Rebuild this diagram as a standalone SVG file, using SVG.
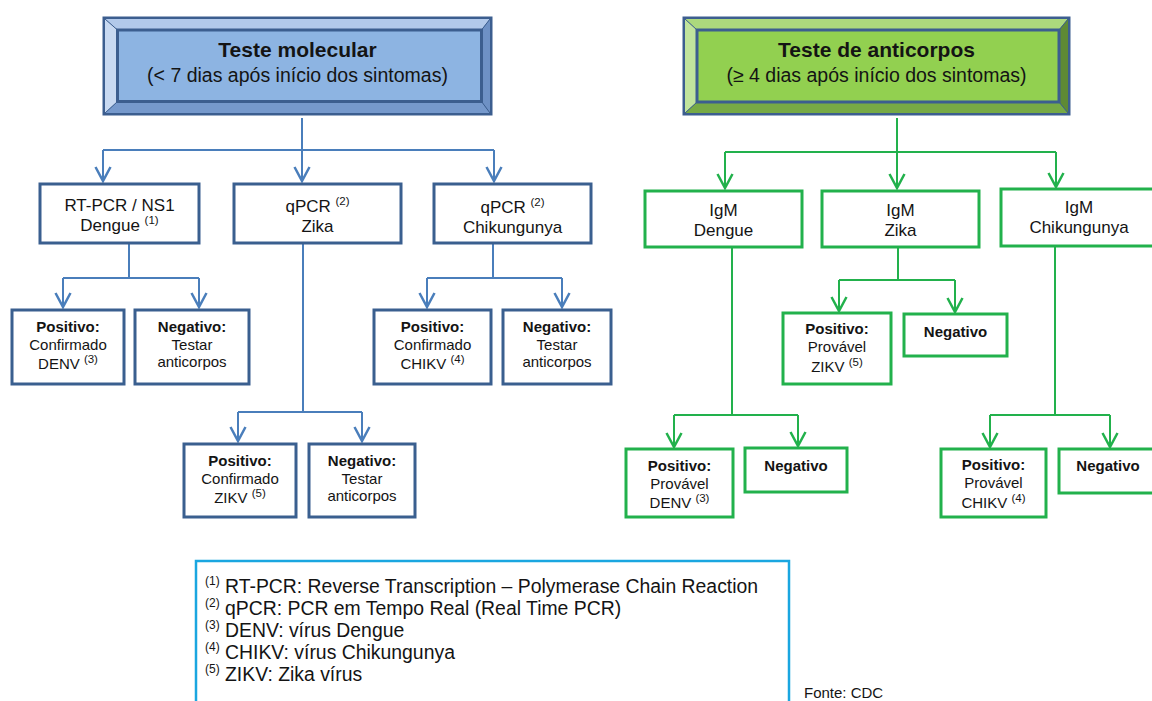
<svg xmlns="http://www.w3.org/2000/svg" width="1152" height="701" viewBox="0 0 1152 701">
<defs>
<marker id="ab" viewBox="-16 -10 18 20" refX="0" refY="0" markerWidth="18" markerHeight="20" markerUnits="userSpaceOnUse" orient="auto"><path d="M-14,-7.5 L0,0 L-14,7.5" fill="none" stroke="#4a7ebb" stroke-width="2.5"/></marker>
<marker id="ag" viewBox="-16 -10 18 20" refX="0" refY="0" markerWidth="18" markerHeight="20" markerUnits="userSpaceOnUse" orient="auto"><path d="M-14,-7.5 L0,0 L-14,7.5" fill="none" stroke="#22b14c" stroke-width="2.5"/></marker>
<style>
text{font-family:"Liberation Sans",Arial,sans-serif;fill:#141414}
.t{font-size:21px;font-weight:bold;text-anchor:middle}
.s{font-size:19.5px;text-anchor:middle}
.m{font-size:17px;text-anchor:middle}
.n{font-size:15px;text-anchor:middle}
.b{font-weight:bold}
.sup{font-size:11.5px}
.bb{fill:#fff;stroke:#3a5f8f;stroke-width:3}
.gb{fill:#fff;stroke:#22b14c;stroke-width:3}
.cb{fill:none;stroke:#4a7ebb;stroke-width:2}
.cg{fill:none;stroke:#22b14c;stroke-width:2}
.leg{font-size:19.4px}
.ls{font-size:12px}
</style>
</defs>

<g id="hdr-molecular">
<rect x="102.5" y="16.5" width="390" height="99" fill="#3c5e8f"/>
<polygon points="105,19 490,19 481.5,30 117.5,30" fill="#b2c9ea"/>
<polygon points="105,19 117.5,30 117.5,101.5 105,113" fill="#c8d9f1"/>
<polygon points="490,19 490,113 481.5,101.5 481.5,30" fill="#6e91c5"/>
<polygon points="105,113 117.5,101.5 481.5,101.5 490,113" fill="#7699cc"/>
<rect x="117.5" y="30" width="364" height="71.5" fill="#8db4e2" stroke="#3c5e8f" stroke-width="3"/>
<path d="M105,19 L117.5,30 M490,19 L481.5,30 M105,113 L117.5,101.5 M490,113 L481.5,101.5" stroke="#3c5e8f" stroke-width="1"/>
<text class="t" x="297.5" y="56.5">Teste molecular</text>
<text class="s" x="297.5" y="81.5">(&lt; 7 dias após início dos sintomas)</text>
</g>

<g id="hdr-anticorpos">
<rect x="682.5" y="16.5" width="388" height="99" fill="#3c5e8f"/>
<polygon points="685,19 1068,19 1059,30 697,30" fill="#acd97d"/>
<polygon points="685,19 697,30 697,102 685,113" fill="#c1e49d"/>
<polygon points="1068,19 1068,113 1059,102 1059,30" fill="#5e8a35"/>
<polygon points="685,113 697,102 1059,102 1068,113" fill="#77aa44"/>
<rect x="697" y="30" width="362" height="72" fill="#92d050" stroke="#3c5e8f" stroke-width="3"/>
<path d="M685,19 L697,30 M1068,19 L1059,30 M685,113 L697,102 M1068,113 L1059,102" stroke="#3c5e8f" stroke-width="1"/>
<text class="t" x="876.5" y="56.5">Teste de anticorpos</text>
<text class="s" x="876.5" y="81.5">(≥ 4 dias após início dos sintomas)</text>
</g>

<g id="connectors">
<path class="cb" d="M302,118 V150 M103,150 H494 M129,244 V278 M63,278 H199 M493,244 V278 M427,278 H562 M303,244 V412 M238,412 H362"/>
<path class="cb" marker-end="url(#ab)" d="M103,150 V181"/>
<path class="cb" marker-end="url(#ab)" d="M302,150 V181"/>
<path class="cb" marker-end="url(#ab)" d="M494,150 V181"/>
<path class="cb" marker-end="url(#ab)" d="M63,278 V307"/>
<path class="cb" marker-end="url(#ab)" d="M199,278 V307"/>
<path class="cb" marker-end="url(#ab)" d="M427,278 V307"/>
<path class="cb" marker-end="url(#ab)" d="M562,278 V307"/>
<path class="cb" marker-end="url(#ab)" d="M238,412 V441"/>
<path class="cb" marker-end="url(#ab)" d="M362,412 V441"/>
<path class="cg" d="M897,118 V152 M725,152 H1056 M898,248 V280 M839,280 H955 M732,247 V415 M674,415 H798 M1055,247 V415 M990,415 H1110"/>
<path class="cg" marker-end="url(#ag)" d="M725,152 V188"/>
<path class="cg" marker-end="url(#ag)" d="M897,152 V188"/>
<path class="cg" marker-end="url(#ag)" d="M1056,152 V187"/>
<path class="cg" marker-end="url(#ag)" d="M839,280 V311"/>
<path class="cg" marker-end="url(#ag)" d="M955,280 V312"/>
<path class="cg" marker-end="url(#ag)" d="M674,415 V447"/>
<path class="cg" marker-end="url(#ag)" d="M798,415 V446"/>
<path class="cg" marker-end="url(#ag)" d="M990,415 V447"/>
<path class="cg" marker-end="url(#ag)" d="M1110,415 V447"/>
</g>

<g id="rtpcr-dengue"><rect class="bb" x="40" y="184" width="159" height="59"/>
<text class="m" x="119.5" y="211">RT-PCR / NS1</text>
<text class="m" x="119.5" y="231">Dengue <tspan class="sup" dy="-7">(1)</tspan></text></g>
<g id="qpcr-zika"><rect class="bb" x="234" y="184" width="167" height="59"/>
<text class="m" x="317.5" y="212">qPCR <tspan class="sup" dy="-7">(2)</tspan></text>
<text class="m" x="317.5" y="232">Zika</text></g>
<g id="qpcr-chik"><rect class="bb" x="434" y="184" width="157" height="59"/>
<text class="m" x="512.5" y="213">qPCR <tspan class="sup" dy="-7">(2)</tspan></text>
<text class="m" x="512.5" y="233">Chikungunya</text></g>

<g id="pos-denv"><rect class="bb" x="12" y="310" width="112" height="74"/>
<text class="n b" x="68" y="332">Positivo:</text>
<text class="n" x="68" y="350">Confirmado</text>
<text class="n" x="68" y="369">DENV <tspan class="sup" dy="-6">(3)</tspan></text></g>
<g id="neg-denv"><rect class="bb" x="135" y="310" width="114" height="74"/>
<text class="n b" x="192" y="332">Negativo:</text>
<text class="n" x="192" y="350">Testar</text>
<text class="n" x="192" y="367">anticorpos</text></g>
<g id="pos-chikv"><rect class="bb" x="374" y="310" width="117" height="74"/>
<text class="n b" x="432.5" y="332">Positivo:</text>
<text class="n" x="432.5" y="350">Confirmado</text>
<text class="n" x="432.5" y="369">CHIKV <tspan class="sup" dy="-6">(4)</tspan></text></g>
<g id="neg-chikv"><rect class="bb" x="503" y="310" width="108" height="74"/>
<text class="n b" x="557" y="332">Negativo:</text>
<text class="n" x="557" y="350">Testar</text>
<text class="n" x="557" y="367">anticorpos</text></g>
<g id="pos-zikv"><rect class="bb" x="184" y="444" width="112" height="73"/>
<text class="n b" x="240" y="466">Positivo:</text>
<text class="n" x="240" y="484">Confirmado</text>
<text class="n" x="240" y="503">ZIKV <tspan class="sup" dy="-6">(5)</tspan></text></g>
<g id="neg-zikv"><rect class="bb" x="309" y="444" width="106" height="73"/>
<text class="n b" x="362" y="466">Negativo:</text>
<text class="n" x="362" y="484">Testar</text>
<text class="n" x="362" y="501">anticorpos</text></g>

<g id="igm-dengue"><rect class="gb" x="645" y="191" width="157" height="56"/>
<text class="m" x="723.5" y="216">IgM</text>
<text class="m" x="723.5" y="236">Dengue</text></g>
<g id="igm-zika"><rect class="gb" x="822" y="191" width="157" height="56"/>
<text class="m" x="900.5" y="216">IgM</text>
<text class="m" x="900.5" y="236">Zika</text></g>
<g id="igm-chik"><rect class="gb" x="1001" y="189" width="160" height="57"/>
<text class="m" x="1079" y="213">IgM</text>
<text class="m" x="1079" y="233">Chikungunya</text></g>

<g id="g-pos-zikv"><rect class="gb" x="783" y="313" width="108" height="71"/>
<text class="n b" x="837" y="334">Positivo:</text>
<text class="n" x="837" y="352">Provável</text>
<text class="n" x="837" y="372">ZIKV <tspan class="sup" dy="-6">(5)</tspan></text></g>
<g id="g-neg-zikv"><rect class="gb" x="904" y="314" width="103" height="42"/>
<text class="n b" x="955.5" y="337">Negativo</text></g>
<g id="g-pos-denv"><rect class="gb" x="626" y="449" width="107" height="68"/>
<text class="n b" x="679.5" y="471">Positivo:</text>
<text class="n" x="679.5" y="489">Provável</text>
<text class="n" x="679.5" y="508">DENV <tspan class="sup" dy="-6">(3)</tspan></text></g>
<g id="g-neg-denv"><rect class="gb" x="745" y="448" width="102" height="44"/>
<text class="n b" x="796" y="471">Negativo</text></g>
<g id="g-pos-chikv"><rect class="gb" x="941" y="449" width="105" height="68"/>
<text class="n b" x="993.5" y="470">Positivo:</text>
<text class="n" x="993.5" y="488">Provável</text>
<text class="n" x="993.5" y="508">CHIKV <tspan class="sup" dy="-6">(4)</tspan></text></g>
<g id="g-neg-chikv"><rect class="gb" x="1059" y="449" width="100" height="44"/>
<text class="n b" x="1108" y="471">Negativo</text></g>

<g id="legend">
<rect x="196" y="561" width="593" height="160" fill="#fff" stroke="#1aa6e0" stroke-width="2.5"/>
<text class="ls" x="205" y="585">(1)</text><text class="leg" x="225" y="593">RT-PCR: Reverse Transcription – Polymerase Chain Reaction</text>
<text class="ls" x="205" y="607">(2)</text><text class="leg" x="225" y="615">qPCR: PCR em Tempo Real (Real Time PCR)</text>
<text class="ls" x="205" y="629">(3)</text><text class="leg" x="225" y="637">DENV: vírus Dengue</text>
<text class="ls" x="205" y="651">(4)</text><text class="leg" x="225" y="659">CHIKV: vírus Chikungunya</text>
<text class="ls" x="205" y="673">(5)</text><text class="leg" x="225" y="681">ZIKV: Zika vírus</text>
</g>
<text x="804" y="698" style="font-size:15px">Fonte: CDC</text>
</svg>
